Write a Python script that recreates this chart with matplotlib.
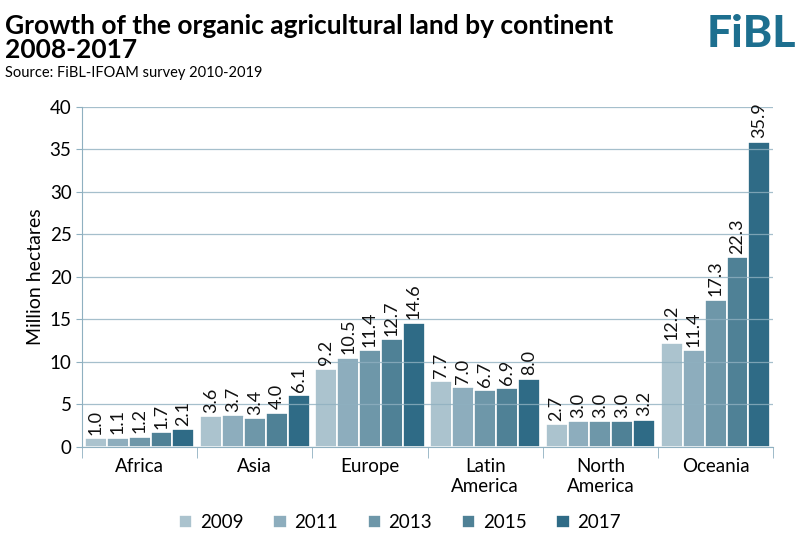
import numpy as np
import matplotlib
matplotlib.use("Agg")
import matplotlib.pyplot as plt

# data
continents = ['Africa', 'Asia', 'Europe', 'Latin\nAmerica', 'North\nAmerica', 'Oceania']
years = ['2009', '2011', '2013', '2015', '2017']
v2009 = [1.0, 3.6, 9.2, 7.7, 2.7, 12.2]
v2011 = [1.1, 3.7, 10.5, 7.0, 3.0, 11.4]
v2013 = [1.2, 3.4, 11.4, 6.7, 3.0, 17.3]
v2015 = [1.7, 4.0, 12.7, 6.9, 3.0, 22.3]
v2017 = [2.1, 6.1, 14.6, 8.0, 3.2, 35.9]
series = [v2009, v2011, v2013, v2015, v2017]
colors = ['#abc3ce', '#8dadbd', '#6e97a9', '#4f8196', '#2f6b86']

plt.rcParams['font.family'] = ['Lato', 'DejaVu Sans']

fig = plt.figure(figsize=(8, 5.45), dpi=100)
ax = fig.add_axes([0.1025, 0.18, 0.864, 0.624])

x = np.arange(len(continents))
w = 0.19
for i, (vals, c) in enumerate(zip(series, colors)):
    pos = x - 0.475 + w * (i + 0.5)
    ax.bar(pos, vals, width=w, color=c, edgecolor='white', linewidth=1.2,
           label=years[i], zorder=2)
    for p, v in zip(pos, vals):
        ax.text(p, v + 0.4, f"{v:.1f}", rotation=90, ha='center', va='bottom',
                fontsize=13, color='#111111')

ax.set_ylim(0, 40)
ax.set_xlim(-0.5, len(continents) - 0.5)
ax.set_yticks(range(0, 41, 5))
ax.yaxis.grid(True, color='#8fb0c0', linewidth=0.9, alpha=0.8, zorder=3)
ax.set_axisbelow(False)
ax.tick_params(axis='y', labelsize=13.5, length=4, color='#8fb0c0')
ax.set_xticks(x)
ax.set_xticklabels(continents, fontsize=13.5)
ax.tick_params(axis='x', length=0, pad=8)
ax.set_xticks(np.arange(-0.5, len(continents)), minor=True)
ax.tick_params(axis='x', which='minor', length=8, color='#8fb0c0')
for s in ['top', 'right']:
    ax.spines[s].set_visible(False)
for s in ['left', 'bottom']:
    ax.spines[s].set_color('#8fb0c0')
ax.set_ylabel('Million hectares', fontsize=14)

fig.text(0.006, 0.975, 'Growth of the organic agricultural land by continent\n2008-2017',
         fontsize=19, fontweight='bold', va='top', linespacing=1.0)
fig.text(0.006, 0.878, 'Source: FiBL-IFOAM survey 2010-2019', fontsize=10.5, va='top')
fig.text(0.995, 0.975, 'FiBL', fontsize=32, fontweight='black', color='#1d6f8f',
         ha='right', va='top')

fig.legend(loc='lower center', ncol=5, bbox_to_anchor=(0.5, -0.005), frameon=False,
           fontsize=13.5, handlelength=0.7, handleheight=0.7, handletextpad=0.4,
           columnspacing=1.6)

fig.savefig('out.png', dpi=100)
